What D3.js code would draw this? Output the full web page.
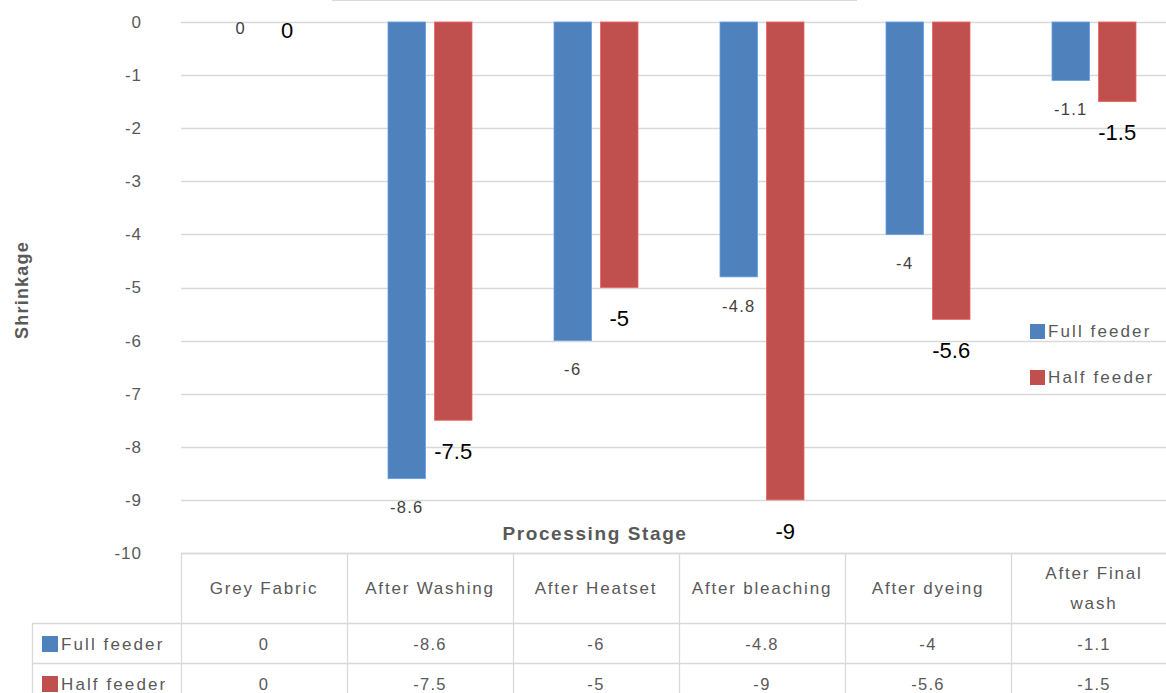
<!DOCTYPE html>
<html>
<head>
<meta charset="utf-8">
<script src="https://cdn.jsdelivr.net/npm/d3@7"></script>
<style>
  html, body { margin: 0; padding: 0; background: #fff; overflow: hidden; }
  svg { display: block; }
  text { font-family: "Liberation Sans", Arial, sans-serif; }
</style>
</head>
<body>
<script>
// ---- data ----
const categories = ["Grey Fabric", "After Washing", "After Heatset", "After bleaching", "After dyeing", "After Final wash"];
const categoryLines = [["Grey Fabric"], ["After Washing"], ["After Heatset"], ["After bleaching"], ["After dyeing"], ["After Final", "wash"]];
const seriesNames = ["Full feeder", "Half feeder"];
const fullFeeder = [0, -8.6, -6, -4.8, -4, -1.1];
const halfFeeder = [0, -7.5, -5, -9, -5.6, -1.5];
const yTicks = [0, -1, -2, -3, -4, -5, -6, -7, -8, -9, -10];
const colors = ["#4F81BD", "#C0504D"];

const W = 1166, H = 693;
const svg = d3.select("body").append("svg").attr("width", W).attr("height", H);

const y = d3.scaleLinear().domain([0, -10]).range([22, 553]);
const x0 = d3.scaleBand().domain(categories).range([181, 1177]).padding(0);
const x1 = d3.scaleBand().domain(seriesNames).range([-42, 42]).paddingInner(0.1935);
const seriesVals = [fullFeeder, halfFeeder];

// faint top line (title box edge)
svg.append("line").attr("x1", 332).attr("x2", 857).attr("y1", 0.5).attr("y2", 0.5)
  .attr("stroke", "#d9d9d9").attr("stroke-width", 1);

// gridlines
svg.append("g").selectAll("line").data(yTicks).join("line")
  .attr("x1", 181).attr("x2", W)
  .attr("y1", d => Math.round(y(d)) + 0.5).attr("y2", d => Math.round(y(d)) + 0.5)
  .attr("stroke", "#d9d9d9").attr("stroke-width", 1.3);

// y-axis via d3.axisLeft (no domain line, no tick lines)
const yAxis = svg.append("g").attr("transform", "translate(142,0)")
  .call(d3.axisLeft(y).tickValues(yTicks).tickSize(0).tickPadding(0).tickFormat(d => String(d)));
yAxis.select(".domain").remove();
yAxis.selectAll("text").attr("font-size", 17).attr("fill", "#595959")
  .attr("font-family", "Liberation Sans, Arial, sans-serif").attr("letter-spacing", 1);

// bars
seriesNames.forEach((s, si) => {
  const vals = seriesVals[si];
  svg.append("g").selectAll("rect").data(vals).join("rect")
    .attr("x", (d, i) => x0(categories[i]) + x0.bandwidth() / 2 + x1(s))
    .attr("y", d => y(0))
    .attr("width", x1.bandwidth())
    .attr("height", d => y(d) - y(0))
    .attr("fill", colors[si])
    .attr("stroke", d3.color(colors[si]).brighter(0.6))
    .attr("stroke-width", 0.8);
});

// data labels
// Full feeder: small grey
svg.append("g").selectAll("text").data(fullFeeder).join("text")
  .attr("x", (d, i) => x0(categories[i]) + x0.bandwidth() / 2 + x1("Full feeder") + x1.bandwidth() / 2)
  .attr("y", d => d === 0 ? y(0) + 6 : y(d) + 29)
  .attr("dy", "0.35em")
  .attr("text-anchor", "middle").attr("font-size", 16.5).attr("letter-spacing", 1.3)
  .attr("fill", "#404040").text(d => String(d));
// Half feeder: larger black
svg.append("g").selectAll("text").data(halfFeeder).join("text")
  .attr("x", (d, i) => x0(categories[i]) + x0.bandwidth() / 2 + x1("Half feeder") + x1.bandwidth() / 2)
  .attr("y", d => d === 0 ? y(0) + 8 : y(d) + 31)
  .attr("dy", "0.35em")
  .attr("text-anchor", "middle").attr("font-size", 22)
  .attr("fill", "#000").text(d => String(d));

// axis titles
svg.append("text").attr("transform", "translate(28,290) rotate(-90)")
  .attr("text-anchor", "middle").attr("font-size", 18).attr("font-weight", "bold")
  .attr("letter-spacing", 1.2).attr("fill", "#595959").text("Shrinkage");
svg.append("text").attr("x", 595).attr("y", 533).attr("dy", "0.35em")
  .attr("text-anchor", "middle").attr("font-size", 19).attr("font-weight", "bold")
  .attr("letter-spacing", 1.6).attr("fill", "#595959").text("Processing Stage");

// right legend
const legend = svg.append("g");
seriesNames.forEach((s, i) => {
  const cy = 331 + i * 46;
  legend.append("rect").attr("x", 1030).attr("y", cy - 7).attr("width", 15).attr("height", 15).attr("fill", colors[i]);
  legend.append("text").attr("x", 1048).attr("y", cy).attr("dy", "0.35em")
    .attr("font-size", 17).attr("letter-spacing", 2.1).attr("fill", "#595959").text(s);
});

// data table
const tbl = svg.append("g");
const gridC = "#d9d9d9";
const rowY = [553, 623, 663, 703];
tbl.append("line").attr("x1", 181).attr("x2", W).attr("y1", rowY[0] + 0.5).attr("y2", rowY[0] + 0.5).attr("stroke", gridC).attr("stroke-width", 1.3);
[1, 2].forEach(r => {
  tbl.append("line").attr("x1", 32).attr("x2", W).attr("y1", rowY[r] + 0.5).attr("y2", rowY[r] + 0.5).attr("stroke", gridC).attr("stroke-width", 1.3);
});
tbl.append("line").attr("x1", 32.5).attr("x2", 32.5).attr("y1", rowY[1]).attr("y2", H).attr("stroke", gridC).attr("stroke-width", 1.3);
tbl.selectAll("line.v").data(categories).join("line").attr("class", "v")
  .attr("x1", d => Math.round(x0(d)) + 0.5).attr("x2", d => Math.round(x0(d)) + 0.5)
  .attr("y1", rowY[0]).attr("y2", H).attr("stroke", gridC).attr("stroke-width", 1.3);

categories.forEach((c, i) => {
  const lines = categoryLines[i];
  const cx = x0(c) + x0.bandwidth() / 2;
  const t = tbl.append("text").attr("text-anchor", "middle").attr("font-size", 17)
    .attr("letter-spacing", 1.8).attr("fill", "#595959");
  lines.forEach((ln, k) => {
    const cy = lines.length === 1 ? 588 : 573 + k * 30;
    t.append("tspan").attr("x", cx).attr("y", cy).attr("dy", "0.35em").text(ln);
  });
});
seriesNames.forEach((s, si) => {
  const cy = (rowY[si + 1] + rowY[si + 2]) / 2 + 1;
  tbl.append("rect").attr("x", 42).attr("y", cy - 8).attr("width", 16).attr("height", 16).attr("fill", colors[si]);
  tbl.append("text").attr("x", 61).attr("y", cy).attr("dy", "0.35em").attr("font-size", 17)
    .attr("letter-spacing", 2.1).attr("fill", "#595959").text(s);
  tbl.append("g").selectAll("text").data(seriesVals[si]).join("text")
    .attr("x", (d, i) => x0(categories[i]) + x0.bandwidth() / 2)
    .attr("y", cy).attr("dy", "0.35em").attr("text-anchor", "middle")
    .attr("font-size", 16.5).attr("letter-spacing", 1.3).attr("fill", "#595959").text(d => String(d));
});
</script>
</body>
</html>
